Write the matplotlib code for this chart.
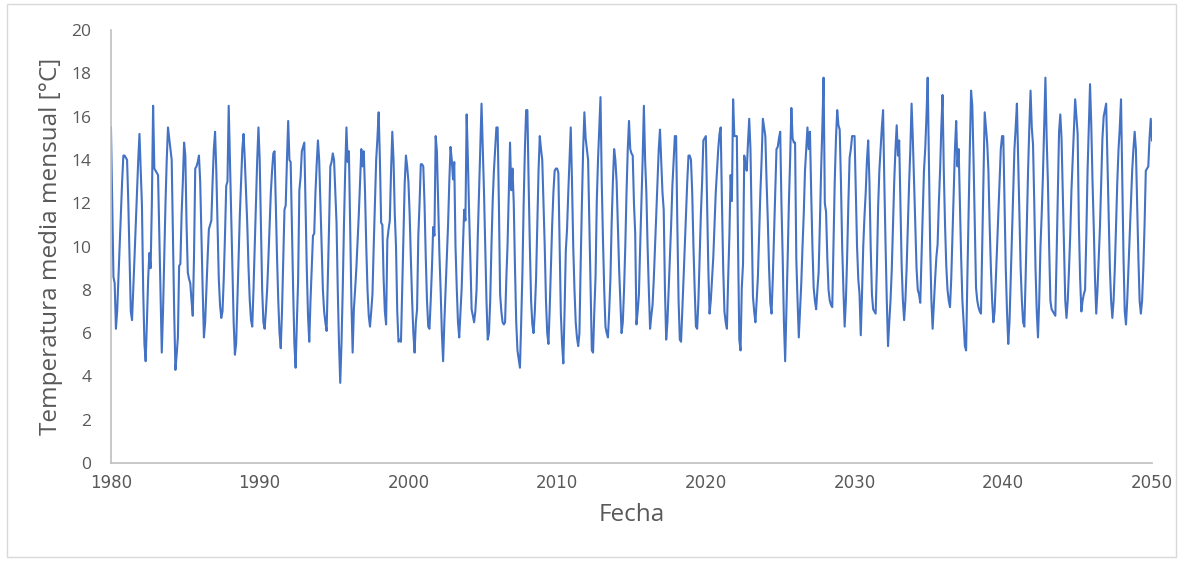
import numpy as np
import matplotlib
matplotlib.use('Agg')
import matplotlib.pyplot as plt
from matplotlib.patches import Rectangle

# monthly mean temperature [°C], Jan..Dec per year
temp_1980s = [
    15.5, 12.0, 8.6, 8.3, 6.2, 7.0, 8.5, 10.0, 11.5, 13.0, 14.2, 14.2,
    14.1, 14.0, 12.0, 9.5, 7.0, 6.6, 8.0, 9.5, 11.0, 12.5, 14.0, 15.2,
    13.5, 11.9, 8.0, 5.5, 4.7, 6.5, 8.5, 9.7, 9.0, 12.0, 16.5, 13.6,
    13.5, 13.4, 13.3, 10.5, 7.5, 5.1, 7.0, 9.5, 12.0, 14.0, 15.5, 15.0,
    14.5, 14.0, 10.5, 7.0, 4.3, 5.0, 5.8, 9.1, 9.2, 11.5, 13.0, 14.8,
    14.2, 11.0, 8.8, 8.5, 8.3, 7.5, 6.8, 9.5, 13.6, 13.7, 13.9, 14.2,
    13.0, 10.5, 8.0, 5.8, 6.5, 8.0, 9.5, 10.8, 11.0, 11.2, 13.0, 14.5,
    15.3, 13.5, 11.0, 8.5, 7.3, 6.7, 7.0, 8.5, 10.5, 12.8, 13.0, 16.5,
    14.0, 11.5, 9.0, 6.5, 5.0, 5.5, 7.5, 9.5, 11.5, 13.0, 14.5, 15.2,
    14.0, 12.5, 11.0, 9.0, 7.5, 6.6, 6.3, 8.0, 10.0, 12.0, 14.0, 15.5,
]
temp_1990s = [
    14.0, 11.0, 8.0, 6.5, 6.2, 7.0, 8.0, 9.4, 11.0, 12.5, 13.5, 14.3,
    14.4, 12.0, 9.5, 7.5, 6.0, 5.3, 7.0, 9.4, 11.7, 11.9, 14.0, 15.8,
    14.0, 13.9, 11.0, 8.0, 5.5, 4.4, 6.5, 8.4, 12.6, 13.2, 14.4, 14.6,
    14.8, 12.0, 9.0, 6.8, 5.6, 7.5, 9.0, 10.5, 10.6, 12.5, 13.8, 14.9,
    14.0, 12.0, 10.0, 8.0, 7.0, 6.5, 6.1, 8.5, 11.0, 13.7, 13.9, 14.3,
    14.0, 12.5, 11.1, 8.0, 5.5, 3.7, 5.5, 8.0, 11.0, 13.5, 15.5, 13.9,
    14.4, 11.0, 7.5, 5.1, 7.1, 8.0, 9.0, 10.2, 11.5, 13.0, 14.5, 13.7,
    14.4, 12.5, 10.0, 8.0, 6.8, 6.3, 7.0, 7.8, 10.0, 12.0, 14.0, 15.0,
    16.2, 14.0, 11.1, 11.0, 8.5, 7.0, 6.4, 10.3, 10.8, 11.2, 13.5, 15.3,
    14.0, 11.5, 10.0, 7.0, 5.6, 5.7, 5.6, 8.0, 10.5, 12.9, 14.2, 13.7,
]
temp_2000s = [
    13.0, 11.5, 9.4, 7.5, 6.0, 5.1, 6.5, 7.1, 10.5, 12.0, 13.8, 13.8,
    13.7, 12.0, 9.5, 7.5, 6.3, 6.2, 7.5, 9.0, 10.9, 10.5, 15.1, 14.4,
    12.0, 9.7, 8.0, 6.0, 4.7, 6.5, 8.0, 9.5, 11.0, 13.0, 14.6, 14.0,
    13.1, 13.9, 10.0, 8.1, 6.5, 5.8, 7.0, 8.1, 10.0, 11.7, 11.2, 16.1,
    14.0, 11.5, 9.4, 7.1, 6.8, 6.5, 7.0, 8.0, 10.5, 12.5, 14.5, 16.6,
    14.5, 12.5, 10.0, 7.5, 5.7, 6.0, 7.5, 10.0, 12.1, 13.5, 14.5, 15.5,
    15.5, 12.0, 7.8, 7.0, 6.5, 6.4, 6.5, 8.5, 10.1, 12.5, 14.8, 12.6,
    13.6, 12.0, 9.0, 6.5, 5.2, 4.8, 4.4, 6.5, 8.8, 12.0, 14.5, 16.3,
    16.3, 13.0, 10.0, 7.5, 6.4, 6.0, 7.0, 8.5, 11.0, 13.5, 15.1, 14.5,
    14.0, 12.0, 10.0, 7.5, 6.0, 5.5, 7.1, 9.0, 11.0, 12.5, 13.5, 13.6,
]
temp_2010s = [
    13.6, 13.4, 10.0, 6.9, 5.5, 4.6, 7.0, 9.8, 10.8, 12.5, 14.0, 15.5,
    13.0, 10.0, 8.0, 6.5, 5.8, 5.4, 6.0, 9.2, 12.0, 14.5, 16.2, 15.0,
    14.5, 14.0, 11.0, 8.0, 5.2, 5.1, 7.0, 8.6, 12.1, 14.0, 15.5, 16.9,
    13.0, 10.3, 8.0, 6.3, 6.0, 5.8, 7.0, 8.5, 11.1, 13.0, 14.5, 14.0,
    13.0, 11.0, 9.0, 7.5, 6.0, 6.5, 8.0, 10.0, 12.5, 14.5, 15.8, 14.5,
    14.3, 14.2, 12.0, 10.6, 6.4, 7.0, 7.8, 10.0, 12.0, 14.0, 16.5, 14.0,
    12.5, 10.0, 8.0, 6.2, 6.8, 7.3, 8.5, 10.0, 11.5, 13.0, 14.5, 15.4,
    14.0, 12.5, 11.7, 8.0, 5.7, 6.5, 8.0, 9.5, 11.0, 12.8, 14.0, 15.1,
    15.1, 11.0, 7.5, 5.7, 5.6, 7.0, 8.5, 10.0, 11.5, 13.0, 14.2, 14.2,
    14.0, 12.5, 10.0, 8.0, 6.3, 6.2, 7.5, 9.5, 11.5, 13.0, 14.9, 15.0,
]
temp_2020s = [
    15.1, 12.0, 9.0, 6.9, 7.5, 8.5, 9.5, 11.0, 12.5, 13.5, 14.5, 15.2,
    15.5, 12.0, 9.0, 7.0, 6.5, 6.2, 8.5, 10.5, 13.3, 12.1, 16.8, 15.1,
    15.1, 15.1, 10.0, 5.7, 5.2, 8.1, 9.2, 14.2, 13.8, 13.5, 14.8, 15.9,
    14.5, 11.0, 7.7, 7.0, 6.5, 7.5, 8.6, 10.5, 12.5, 14.0, 15.9, 15.5,
    15.1, 13.0, 11.2, 9.0, 7.4, 6.9, 8.5, 10.5, 12.5, 14.5, 14.6, 15.0,
    15.3, 12.0, 9.5, 6.5, 4.7, 7.0, 9.4, 12.0, 14.0, 16.4, 15.0, 14.8,
    14.8, 9.4, 7.5, 5.8, 7.0, 8.3, 10.0, 11.5, 13.5, 14.5, 15.5, 14.5,
    15.3, 12.5, 10.0, 8.1, 7.5, 7.1, 8.0, 8.8, 11.0, 13.5, 15.5, 17.8,
    12.0, 11.6, 9.5, 8.0, 7.5, 7.3, 7.2, 10.0, 13.0, 15.0, 16.3, 15.6,
    15.4, 13.0, 10.0, 8.0, 6.3, 7.5, 9.5, 12.0, 14.1, 14.5, 15.1, 15.1,
]
temp_2030s = [
    15.1, 12.5, 10.0, 8.5, 7.8, 5.9, 7.8, 10.0, 11.4, 12.5, 14.0, 14.9,
    13.0, 10.0, 7.8, 7.1, 7.0, 6.9, 9.0, 11.8, 13.5, 14.5, 15.5, 16.3,
    13.0, 10.1, 7.5, 5.4, 6.5, 7.5, 8.9, 11.0, 13.0, 14.5, 15.6, 14.2,
    14.9, 12.0, 9.1, 7.5, 6.6, 7.5, 9.0, 11.0, 12.9, 14.5, 16.6, 15.0,
    13.0, 11.0, 9.0, 8.0, 7.8, 7.4, 9.5, 11.5, 13.5, 14.5, 16.0, 17.8,
    14.0, 10.0, 7.5, 6.2, 7.4, 8.5, 9.5, 10.1, 12.0, 13.5, 15.5, 17.0,
    13.5, 11.0, 9.1, 8.0, 7.5, 7.2, 8.5, 10.5, 12.5, 14.5, 15.8, 13.7,
    14.5, 12.0, 9.5, 7.5, 6.5, 5.4, 5.2, 8.5, 11.5, 14.5, 17.2, 16.5,
    14.0, 11.0, 8.1, 7.5, 7.2, 7.0, 6.9, 10.0, 13.0, 16.2, 15.5, 14.8,
    13.5, 11.0, 9.0, 7.5, 6.5, 7.0, 8.5, 10.0, 11.5, 13.0, 14.5, 15.1,
]
temp_2040s = [
    15.1, 12.0, 9.0, 7.0, 5.5, 6.5, 8.5, 10.5, 12.5, 14.5, 15.5, 16.6,
    14.0, 11.5, 9.0, 7.5, 6.5, 6.3, 8.5, 11.0, 13.5, 15.5, 17.2, 15.5,
    14.7, 12.0, 9.0, 7.0, 5.8, 7.5, 10.0, 11.5, 13.3, 15.5, 17.8, 15.0,
    13.0, 10.0, 7.5, 7.1, 7.0, 6.9, 6.8, 9.5, 12.5, 15.3, 16.1, 15.0,
    12.5, 9.8, 7.5, 6.7, 7.5, 8.9, 10.5, 12.6, 14.0, 15.5, 16.8, 16.0,
    15.2, 11.0, 8.5, 7.0, 7.5, 7.8, 8.0, 10.5, 13.5, 15.5, 17.5, 15.6,
    13.0, 10.9, 8.5, 6.9, 8.0, 9.5, 10.9, 13.0, 15.0, 16.0, 16.3, 16.6,
    14.0, 11.5, 9.0, 7.5, 6.7, 7.5, 9.0, 11.0, 13.0, 14.5, 15.5, 16.8,
    13.0, 9.5, 7.0, 6.4, 7.5, 9.0, 10.5, 12.0, 13.5, 14.5, 15.3, 14.5,
    12.0, 9.5, 7.5, 6.9, 7.5, 9.0, 11.0, 13.5, 13.6, 13.7, 15.0, 15.9,
]
temp_2050 = [14.9]

start_year = 1980
x_ticks = [1980, 1990, 2000, 2010, 2020, 2030, 2040, 2050]
y_ticks = [0, 2, 4, 6, 8, 10, 12, 14, 16, 18, 20]

temps = np.array(temp_1980s + temp_1990s + temp_2000s + temp_2010s
                 + temp_2020s + temp_2030s + temp_2040s + temp_2050)
fecha = start_year + np.arange(len(temps)) / 12.0

grey_txt = '#595959'
fig = plt.figure(figsize=(11.83, 5.61), dpi=100)
ax = fig.add_axes([0.0938, 0.1747, 0.8800, 0.7718])

ax.plot(fecha, temps, color='#4472C4', linewidth=1.5)

ax.set_xlim(1980, 2050)
ax.set_ylim(0, 20)
ax.set_xticks(x_ticks)
ax.set_yticks(y_ticks)
ax.set_xticklabels([str(v) for v in x_ticks],
                   family=['Liberation Sans Narrow', 'DejaVu Sans'], fontsize=12)
ax.set_yticklabels([str(v) for v in y_ticks], family='Open Sans', fontsize=12.5)
ax.tick_params(axis='both', length=0, colors=grey_txt)
ax.tick_params(axis='y', pad=14)
ax.tick_params(axis='x', pad=8)

for side in ['top', 'right']:
    ax.spines[side].set_visible(False)
for side in ['left', 'bottom']:
    ax.spines[side].set_color('#BFBFBF')
    ax.spines[side].set_linewidth(1.2)

ax.set_ylabel('Temperatura media mensual [°C]', family='Open Sans',
              fontsize=17.5, color=grey_txt, labelpad=6)
ax.set_xlabel('Fecha', family='Open Sans', fontsize=17.5, color=grey_txt,
              labelpad=8)

# chart area border
fig.patches.append(Rectangle((0.006, 0.008), 0.988, 0.984, transform=fig.transFigure,
                             fill=False, edgecolor='#D9D9D9', linewidth=1.0))

fig.savefig('out.png', dpi=100)
